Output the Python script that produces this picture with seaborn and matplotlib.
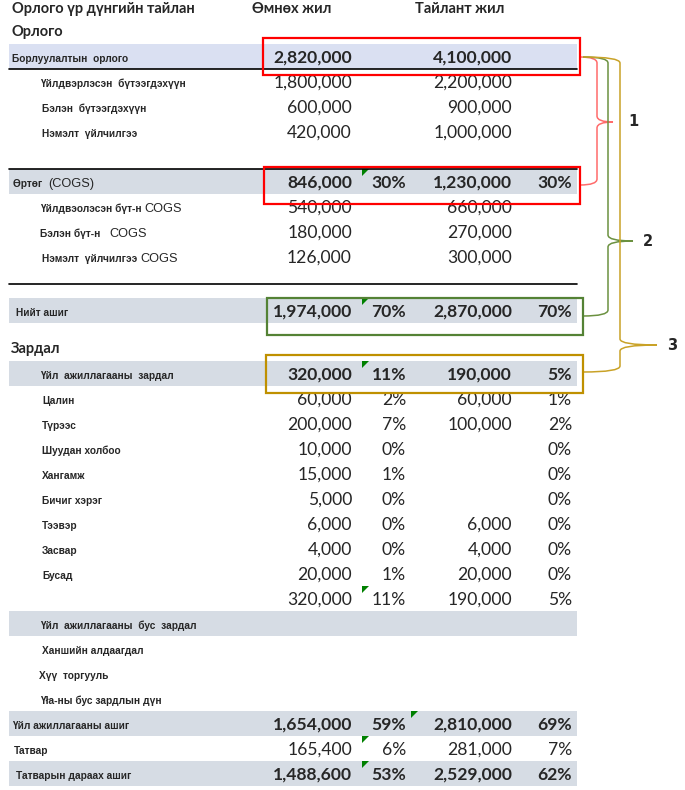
import matplotlib
matplotlib.use("Agg")
import matplotlib.pyplot as plt
from matplotlib.patches import Rectangle, Polygon, PathPatch
from matplotlib.path import Path
import seaborn as sns

sns.set_theme(style="white")
plt.rcParams["font.family"] = ["Lato", "DejaVu Sans"]

# ---- data -------------------------------------------------------------
title = "Орлого үр дүнгийн тайлан"
col_headers = ["Өмнөх жил", "Тайлант жил"]
sec_income = "Орлого"
sec_expense = "Зардал"

labels = ["Борлуулалтын  орлого", "Үйлдвэрлэсэн  бүтээгдэхүүн", "Бэлэн  бүтээгдэхүүн",
          "Нэмэлт  үйлчилгээ", "",
          "Өртөг  (COGS)", "Үйлдвэолэсэн бүт-н COGS", "Бэлэн бүт-н   COGS",
          "Нэмэлт  үйлчилгээ COGS", "",
          "Нийт ашиг", "",
          "Үйл  ажиллагааны  зардал", "Цалин", "Түрээс", "Шуудан холбоо", "Хангамж",
          "Бичиг хэрэг", "Тээвэр", "Засвар", "Бусад", "",
          "Үйл  ажиллагааны  бус  зардал", "Ханшийн алдаагдал", "Хүү  торгууль",
          "Үłа-ны бус зардлын дүн",
          "Үйл ажиллагааны ашиг", "Татвар", "Татварын дараах ашиг"]
prev_vals = [2820000, 1800000, 600000, 420000, None,
             846000, 540000, 180000, 126000, None,
             1974000, None,
             320000, 60000, 200000, 10000, 15000, 5000, 6000, 4000, 20000, 320000,
             None, None, None, None,
             1654000, 165400, 1488600]
prev_pct = [None, None, None, None, None,
            30, None, None, None, None,
            70, None,
            11, 2, 7, 0, 1, 0, 0, 0, 1, 11,
            None, None, None, None,
            59, 6, 53]
cur_vals = [4100000, 2200000, 900000, 1000000, None,
            1230000, 660000, 270000, 300000, None,
            2870000, None,
            190000, 60000, 100000, None, None, None, 6000, 4000, 20000, 190000,
            None, None, None, None,
            2810000, 281000, 2529000]
cur_pct = [None, None, None, None, None,
           30, None, None, None, None,
           70, None,
           5, 1, 2, 0, 0, 0, 0, 0, 0, 5,
           None, None, None, None,
           69, 7, 62]
shaded = [0, 5, 10, 12, 22, 26, 28]
bold_rows = [0, 5, 10, 12, 26, 28]
flag_prev = [5, 10, 12, 21, 27, 28]   # green corner markers
flag_cur = [26]

# ---- layout -----------------------------------------------------------
row_h = [25] * 9 + [29, 25, 38] + [25] * 17
tops = [44]
for h in row_h[:-1]:
    tops.append(tops[-1] + h)
indent = [12, 40, 42, 42, 0, 13, 40, 40, 42, 0, 16, 0, 40, 42, 42, 42, 42, 42, 42,
          42, 42, 0, 40, 42, 39, 40, 12, 14, 16]
X0, X1 = 9, 577
VAL1, PCT1, VAL2, PCT2 = 352, 406, 512, 572
BAND = "#d6dce4"
BAND0 = "#dae0f2"

fig = plt.figure(figsize=(6.85, 7.90), dpi=100)
ax = fig.add_axes([0, 0, 1, 1])
ax.set_xlim(0, 685)
ax.set_ylim(790, 0)
sns.despine(ax=ax, left=True, bottom=True)
ax.set_xticks([])
ax.set_yticks([])

lab_font = dict(family=["Liberation Sans", "DejaVu Sans"], fontsize=7.3, fontweight="bold")

for i in shaded:
    ax.add_patch(Rectangle((X0, tops[i]), X1 - X0, row_h[i],
                           color=BAND0 if i == 0 else BAND, lw=0, zorder=0))

ax.plot([X0, X1], [tops[0] + 25, tops[0] + 25], color="black", lw=1.2)
ax.plot([X0, X1], [tops[5], tops[5]], color="black", lw=1.2)
ax.plot([X0, X1], [284, 284], color="black", lw=1.2)

ax.text(12, 9, title, fontsize=10.5, fontweight="bold", va="center")
ax.text(252, 9, col_headers[0], fontsize=10.5, fontweight="bold", va="center")
ax.text(415, 9, col_headers[1], fontsize=10.5, fontweight="bold", va="center")
ax.text(12, 32, sec_income, fontsize=10.5, fontweight="bold", va="center")
ax.text(11, tops[11] + 26, sec_expense, fontsize=10.5, fontweight="bold", va="center")

for i, lab in enumerate(labels):
    yc = tops[i] + 14
    if lab:
        if "COGS" in lab:
            head, tail = lab.split("COGS")[0], "COGS"
            if head.endswith("("):
                head, tail = head[:-1], "(COGS)"
            t = ax.text(indent[i], yc + 1, head, va="center", **lab_font)
            ax.annotate(tail, xy=(1, 0.5), xycoords=t, va="center", ha="left",
                        family=["Liberation Sans", "DejaVu Sans"], fontsize=9.2)
        else:
            ax.text(indent[i], yc + 1, lab, va="center", **lab_font)
    fw = "bold" if i in bold_rows else "normal"
    for x, v in [(VAL1, prev_vals[i]), (VAL2, cur_vals[i])]:
        if v is not None:
            ax.text(x, yc, f"{v:,}", ha="right", va="center", fontsize=12.6, fontweight=fw)
    for x, p in [(PCT1, prev_pct[i]), (PCT2, cur_pct[i])]:
        if p is not None:
            ax.text(x, yc, f"{p}%", ha="right", va="center", fontsize=12.6, fontweight=fw)

for i in flag_prev:
    t = tops[i]
    ax.add_patch(Polygon([(362, t), (369, t), (362, t + 7)], color="#008000", lw=0))
for i in flag_cur:
    t = tops[i]
    ax.add_patch(Polygon([(411, t), (418, t), (411, t + 7)], color="#008000", lw=0))

# highlight boxes
boxes = [(0, -6, 31, 263, 580, "#ff0000"), (5, -2, 35, 264, 580, "#ff0000"),
         (10, 0, 37, 267, 583, "#548235"), (12, -6, 32, 266, 583, "#bf9000")]
for r, d0, d1, xa, xb, c in boxes:
    ax.add_patch(Rectangle((xa, tops[r] + d0), xb - xa, d1 - d0, fill=False,
                           ec=c, lw=1.6, zorder=5))


def brace(x0, xm, xt, y0, ym, y1, color):
    r = 6
    verts = [(x0, y0), (xm, y0), (xm, y0 + r),
             (xm, ym - r),
             (xm, ym), (xt, ym),
             (xm, ym), (xm, ym + r),
             (xm, y1 - r),
             (xm, y1), (x0, y1)]
    codes = [Path.MOVETO, Path.CURVE3, Path.CURVE3, Path.LINETO,
             Path.CURVE3, Path.CURVE3, Path.CURVE3, Path.CURVE3,
             Path.LINETO, Path.CURVE3, Path.CURVE3]
    ax.add_patch(PathPatch(Path(verts, codes), fill=False, ec=color, lw=1.1, zorder=4))


brace(580, 597, 613, 57, 122, 185, "#ff6b6b")
brace(583, 608, 633, 57, 241, 316, "#6b9140")
brace(583, 620, 657, 57, 345, 372, "#c9a227")
for txt, x, y in [("1", 633, 122), ("2", 648, 241), ("3", 672, 345)]:
    ax.text(x, y, txt, fontsize=10.5, fontweight="bold", va="center", ha="center",
            family="DejaVu Sans")

fig.savefig("out.png", dpi=100)
